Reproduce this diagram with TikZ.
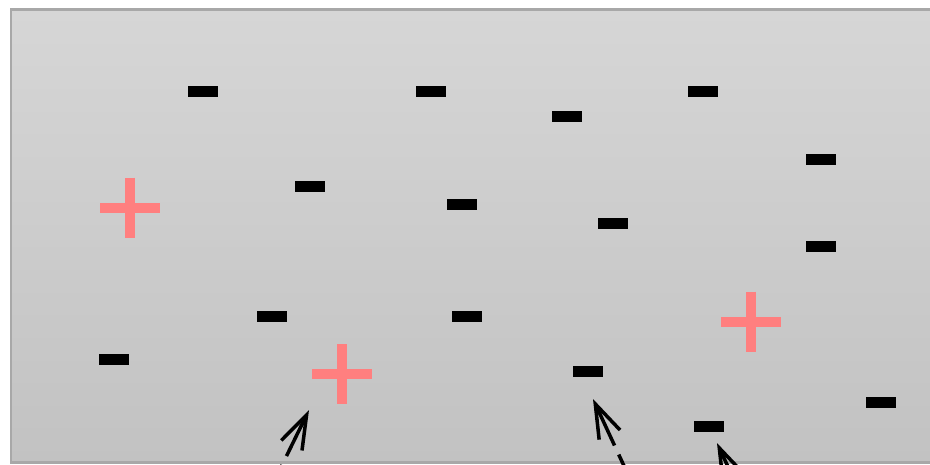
\documentclass[tikz,border=0pt]{standalone}
\usepackage{tikz}
\usetikzlibrary{arrows.meta}
\definecolor{Salmon}{HTML}{FF7F7F}
\definecolor{FrameGray}{HTML}{A8A8A8}
\definecolor{ShadeTop}{HTML}{D6D6D6}
\definecolor{ShadeBottom}{HTML}{C2C2C2}
\tikzset{negbar/.style={rectangle,fill=black,minimum width=.6cm,minimum height=.22cm,inner sep=0pt},poscross/.style={minimum size=1.2cm,inner sep=0pt,path picture={\draw[Salmon,line width=.2cm](path picture bounding box.west)--(path picture bounding box.east);\draw[Salmon,line width=.2cm](path picture bounding box.north)--(path picture bounding box.south);}},pointer/.style={{Straight Barb[length=.68cm,width=.46cm]}-,line width=2pt,dash pattern=on .88cm off .2cm}}

\begin{document}
\begin{tikzpicture}[x=.02cm,y=-.02cm]
        \useasboundingbox(0,0)rectangle(930,464);
        \clip(0,0)rectangle(930,464);
        % the box
        \draw[FrameGray,line width=.06cm,top color=ShadeTop,bottom color=ShadeBottom](11,9.5)rectangle(960,462);
        % negative charges
        \foreach \px/\py [count=\i] in {203/91,431/91,567/116,703/91,821/159,310/186,462/204,613/223,821/246,272/316,467/316,114/359,588/371,709/426,881/402}
          \node[negbar](m\i)at(\px,\py){};
        % positive charges
        \node[poscross](p1)at(130,207.5){};
        \node[poscross](p2)at(342,374){};
        \node[poscross](p3)at(751,321.5){};
        % pointers coming in from below
        \coordinate(t1)at(309,410);
        \coordinate(s1)at(243,545);
        \coordinate(t2)at(593,399);
        \coordinate(s2)at(656,535);
        \coordinate(t3)at(717,443);
        \coordinate(s3)at(780,579);
        \draw[pointer](t1)--(s1);
        \draw[pointer](t2)--(s2);
        \draw[pointer](t3)--(s3);
      \end{tikzpicture}
\end{document}
